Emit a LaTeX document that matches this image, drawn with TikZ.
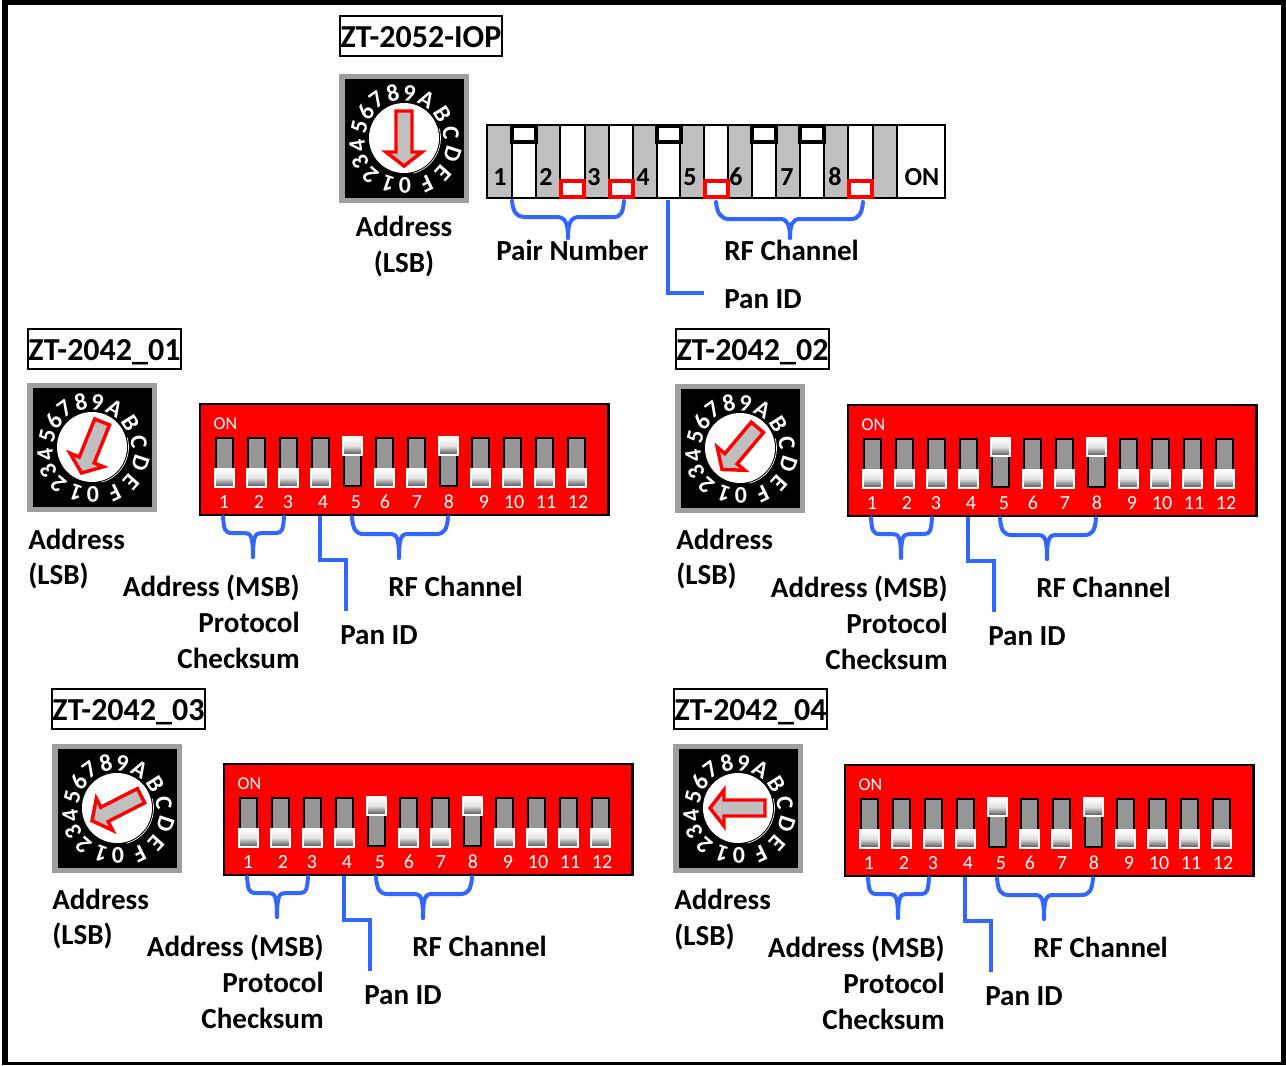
\documentclass[tikz,border=0pt]{standalone}
\usepackage{fontspec}
\setmainfont{Carlito}
\definecolor{brblue}{HTML}{3366FF}
\definecolor{cellgray}{HTML}{BFBFBF}
\definecolor{framegray}{HTML}{9E9E9E}
\definecolor{slotgray}{HTML}{969696}
\tikzset{
  px/.style={x=0.75pt,y=0.75pt},
  lbl/.style={font=\bfseries\fontsize{21.8}{22}\selectfont,inner sep=0pt,text=black,anchor=base,yshift=-7.6pt},
  lblL/.style={lbl,anchor=base west},
  lblR/.style={lbl,anchor=base east},
  titlebox/.style={draw=black,line width=1.5pt,fill=white,font=\bfseries\fontsize{24}{24}\selectfont,inner sep=0pt,minimum height=30pt,anchor=center},
  dialch/.style={font=\bfseries\fontsize{18}{18}\selectfont,text=white,inner sep=0pt},
  dialarrow/.style={draw=red,fill=cellgray,line width=2.6pt,line join=miter,miter limit=4},
  brace/.style={draw=brblue,line width=3pt,line cap=round,line join=round},
  panline/.style={draw=brblue,line width=3pt,line join=miter},
  cellG/.style={draw=black,line width=1.5pt,fill=cellgray},
  cellW/.style={draw=black,line width=1.5pt,fill=white},
  blackmark/.style={draw=black,line width=3.2pt,fill=white},
  redmark/.style={draw=red,line width=3.4pt,fill=white},
  dipnum/.style={font=\bfseries\fontsize{19.5}{19.5}\selectfont,inner sep=0pt},
  redbox/.style={draw=black,line width=1.8pt,fill=red},
  slot/.style={draw=black,line width=1.1pt,fill=slotgray},
  slider/.style={draw=white,line width=1.5pt,top color=white,bottom color=black!72,middle color=black!12},
  rednum/.style={font=\fontsize{15}{15}\selectfont,text=white,inner sep=0pt},
}
% dial: prefix, left, top of the grey frame, clockwise angle of the arrow
\newcommand{\rotarydial}[4]{%
  \begin{scope}[shift={(#2+65,-#3-63)}]
    \fill[framegray] (-65,64.5) rectangle (65,-64.5);
    \fill[black] (-59.5,59) rectangle (59.5,-59.5);
    \draw[white,line width=0.5pt] (-75:36.5) arc (-75:15:36.5);
    \fill[white] (0,0) circle (35);
    \foreach \c/\a/\r in {0/179/47,1/199/48,2/221/50,3/241/50,4/261/47,5/284/46,6/304/46,7/324/47,8/346/46,9/7/45,A/30/45,B/58/46,C/84/47,D/108/51,E/132/53,F/154/51}{
      \node[dialch,rotate=-\a] (#1ch\c) at (90-\a:\r) {\c};
    }
    \begin{scope}[rotate=-#4]
      \draw[dialarrow] (-8,27) -- (8,27) -- (8,-14) -- (18,-14) -- (0,-28) -- (-18,-14) -- (-8,-14) -- cycle;
    \end{scope}
  \end{scope}
}
% red 12-way switch group, drawn from the position of ZT-2042_01 shifted by dx,dy
\newcommand{\redswitches}[3]{%
  \begin{scope}[shift={(#2,-#3)}]
    \node[redbox,minimum width=306.5pt,minimum height=83.5pt,inner sep=0pt,anchor=north west] (#1box) at (198.8,-402.5) {};
    \node[font=\fontsize{13.5}{13.5}\selectfont,text=white,inner sep=0pt] (#1on) at (225.5,-424) {ON};
    \foreach \i in {0,...,11}{
      \draw[slot] ({216+32*\i},-438) rectangle ({233+32*\i},-486);
    }
    \foreach \i in {0,1,2,3,5,6,8,9,10,11}{
      \draw[slider] ({215+32*\i},-469) rectangle ({234+32*\i},-487);
    }
    \foreach \i in {4,7}{
      \draw[slider] ({215+32*\i},-437) rectangle ({234+32*\i},-455);
    }
    \foreach \n/\x in {1/224,2/259,3/288,4/323,5/356,6/385,7/417,8/449,9/484,10/514,11/546,12/578}{
      \node[rednum] (#1n\n) at (\x,-502) {\n};
    }
    \node[lblR] (#1msb) at (300,-586) {Address (MSB)};
    \node[lblR] (#1prot) at (300,-622) {Protocol};
    \node[lblR] (#1chk) at (300,-658) {Checksum};
    \node[lblL] (#1rf) at (388,-586) {RF Channel};
    \node[lblL] (#1pan) at (340,-634) {Pan ID};
    \coordinate (#1a1) at (223,-517);
    \coordinate (#1a2) at (253,-557);
    \coordinate (#1a3) at (284,-517);
    \coordinate (#1b1) at (352,-517);
    \coordinate (#1b2) at (399,-558);
    \coordinate (#1b3) at (448,-517);
    \coordinate (#1p1) at (320,-516);
    \coordinate (#1p2) at (346,-560);
    \coordinate (#1p3) at (346,-611);
    \draw[brace] (#1a1) .. controls (224,-530) and (225,-533) .. (232,-533) -- (245,-533) .. controls (251,-533) and (253,-537) .. (#1a2);
    \draw[brace] (#1a2) .. controls (253,-537) and (255,-533) .. (261,-533) -- (276,-533) .. controls (282,-533) and (283,-530) .. (#1a3);
    \draw[brace] (#1b1) .. controls (353,-530) and (356,-534) .. (364,-534) -- (390,-534) .. controls (397,-534) and (399,-538) .. (#1b2);
    \draw[brace] (#1b2) .. controls (399,-538) and (401,-534) .. (408,-534) -- (436,-534) .. controls (444,-534) and (447,-530) .. (#1b3);
    \draw[panline] (#1p1) |- (#1p2) -- (#1p3);
  \end{scope}
}
\newcommand{\titletext}[1]{\raisebox{-8.8pt}[0pt][0pt]{#1}}
\begin{document}
\begin{tikzpicture}[px]
\useasboundingbox (0,0) rectangle (1286,-1065);
\fill[white] (0,0) rectangle (1286,-1065);
\fill[black] (2,0) rectangle (1286,-1065);
\fill[white] (8,-5) rectangle (1281,-1062);

% ZT-2052-IOP
\node[titlebox,minimum width=121.5pt] (t0) at (421,-36) {\titletext{ZT-2052-IOP}};
\rotarydial{d0}{339}{75}{0}
\node[lbl] (d0a) at (404,-226) {Address};
\node[lbl] (d0l) at (404,-262) {(LSB)};

\draw[cellG] (487,-125) rectangle (945,-198);
\foreach \l/\r in {512/536,560/585,609/633,657/680,704/728,752/776,800/824,848/873,897/945}{
  \draw[cellW] (\l,-125) rectangle (\r,-198);
}
\foreach \n/\x in {1/500,2/546,3/594,4/643,5/690,6/736,7/787,8/835}{
  \node[dipnum] (i\n) at (\x,-177) {\n};
}
\node[dipnum] (ion) at (922,-177) {ON};
\foreach \l in {512,657,752,800}{
  \draw[blackmark] (\l,-126) rectangle (\l+24,-142);
}
\foreach \l in {560,609,704,848}{
  \draw[redmark] (\l+1,-181) rectangle (\l+24,-197);
}
\node[lblL] (ipair) at (496,-250) {Pair Number};
\node[lblL] (irf) at (724,-250) {RF Channel};
\node[lblL] (ipan) at (724,-298) {Pan ID};
\coordinate (ia1) at (512,-201);
\coordinate (ia2) at (568,-238);
\coordinate (ia3) at (624,-201);
\coordinate (ib1) at (716,-202);
\coordinate (ib2) at (790,-238);
\coordinate (ib3) at (863,-202);
\coordinate (ip1) at (668,-200);
\coordinate (ip2) at (704,-293);
\draw[brace] (ia1) .. controls (513,-212) and (517,-217) .. (524,-217) -- (556,-217) .. controls (565,-217) and (568,-222) .. (ia2);
\draw[brace] (ia2) .. controls (568,-222) and (571,-217) .. (580,-217) -- (614,-217) .. controls (621,-217) and (623,-212) .. (ia3);
\draw[brace] (ib1) .. controls (717,-213) and (721,-219) .. (729,-219) -- (780,-219) .. controls (787,-219) and (790,-224) .. (ib2);
\draw[brace] (ib2) .. controls (790,-224) and (793,-219) .. (800,-219) -- (851,-219) .. controls (859,-219) and (862,-213) .. (ib3);
\draw[panline] (ip1) |- (ip2);

% ZT-2042_01
\node[titlebox,minimum width=115pt] (t1) at (104.5,-349) {\titletext{ZT-2042\_01}};
\rotarydial{d1}{27}{384}{22}
\node[lblL] (d1a) at (28,-539) {Address};
\node[lblL] (d1l) at (28,-574) {(LSB)};
\redswitches{s1}{0}{0}

% ZT-2042_02
\node[titlebox,minimum width=115pt] (t2) at (752.5,-349) {\titletext{ZT-2042\_02}};
\rotarydial{d2}{675}{385}{40}
\node[lblL] (d2a) at (676,-539) {Address};
\node[lblL] (d2l) at (676,-574) {(LSB)};
\redswitches{s2}{648}{1}

% ZT-2042_03
\node[titlebox,minimum width=115pt] (t3) at (128.5,-709) {\titletext{ZT-2042\_03}};
\rotarydial{d3}{52}{745}{63}
\node[lblL] (d3a) at (52,-899) {Address};
\node[lblL] (d3l) at (52,-934) {(LSB)};
\redswitches{s3}{24}{360}

% ZT-2042_04
\node[titlebox,minimum width=115pt] (t4) at (750.5,-709) {\titletext{ZT-2042\_04}};
\rotarydial{d4}{673}{745}{90}
\node[lblL] (d4a) at (674,-899) {Address};
\node[lblL] (d4l) at (674,-935) {(LSB)};
\redswitches{s4}{645}{361}
\end{tikzpicture}
\end{document}
